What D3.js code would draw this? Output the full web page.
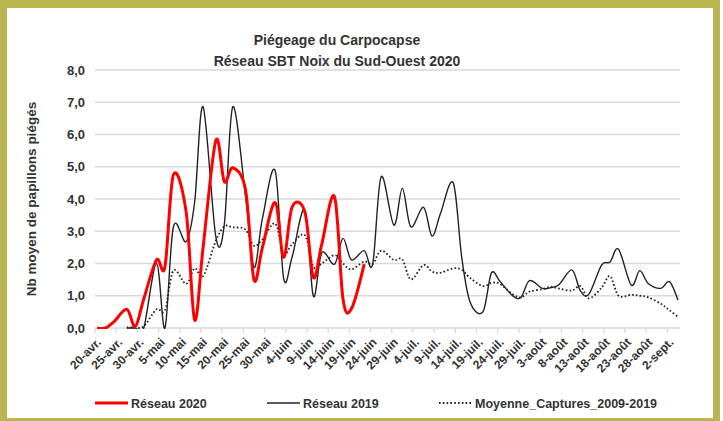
<!DOCTYPE html>
<html>
<head>
<meta charset="utf-8">
<script src="https://cdn.jsdelivr.net/npm/d3@7"></script>
<style>
  html, body { margin: 0; padding: 0; background: #fff; }
  text { font-family: "Liberation Sans", Arial, sans-serif; font-weight: bold; fill: #333; }
</style>
</head>
<body>
<div id="chart"></div>
<script>
// relevés lundi / mercredi / vendredi
const dates = [
  "2020-04-20","2020-04-22","2020-04-24","2020-04-27","2020-04-29","2020-05-01",
  "2020-05-04","2020-05-06","2020-05-08","2020-05-11","2020-05-13","2020-05-15",
  "2020-05-18","2020-05-20","2020-05-22","2020-05-25","2020-05-27","2020-05-29",
  "2020-06-01","2020-06-03","2020-06-05","2020-06-08","2020-06-10","2020-06-12",
  "2020-06-15","2020-06-17","2020-06-19","2020-06-22","2020-06-24","2020-06-26",
  "2020-06-29","2020-07-01","2020-07-03","2020-07-06","2020-07-08","2020-07-10",
  "2020-07-13","2020-07-15","2020-07-17","2020-07-20","2020-07-22","2020-07-24",
  "2020-07-27","2020-07-29","2020-07-31","2020-08-03","2020-08-05","2020-08-07",
  "2020-08-10","2020-08-12","2020-08-14","2020-08-17","2020-08-19","2020-08-21",
  "2020-08-24","2020-08-26","2020-08-28","2020-08-31","2020-09-02","2020-09-04"
];

const reseau2020 = [
  0, 0, 0.2, 0.58, 0.04, 0.9, 2.11, 1.9, 4.75, 3.6, 0.25, 2.5,
  5.81, 4.54, 4.97, 4.29, 1.5, 2.5, 3.89, 2.19, 3.75, 3.6, 1.57, 2.6,
  4.07, 0.9, 0.6, 1.98
];

const reseau2019 = [
  null, null, null, 0, 0, 0, 2.0, 0, 3.14, 2.68, 3.9, 6.86,
  2.83, 3.2, 6.86, 4.1, 1.88, 3.4, 4.88, 1.54, 2.2, 3.66, 0.99, 2.33,
  1.98, 2.78, 2.11, 2.4, 1.98, 4.69, 3.19, 4.33, 3.14, 3.74, 2.85, 3.55,
  4.5, 2.2, 0.8, 0.5, 1.7, 1.45, 1.0, 0.95, 1.47, 1.23, 1.25, 1.35,
  1.8, 1.15, 1.05, 1.95, 2.05, 2.44, 1.33, 1.78, 1.38, 1.23, 1.44, 0.87
];

const moyenne = [
  null, null, null, 0.02, 0.02, 0.05, 0.58, 0.55, 1.78, 1.37, 1.85, 1.61,
  2.7, 3.15, 3.12, 3.05, 2.55, 2.75, 3.24, 2.31, 2.6, 2.88, 1.9, 2.0,
  2.26, 2.0, 1.82, 2.06, 1.98, 2.4, 2.11, 2.13, 1.51, 1.95, 1.75, 1.71,
  1.85, 1.8, 1.55, 1.3, 1.4, 1.37, 1.05, 0.95, 1.13, 1.2, 1.28, 1.22,
  1.16, 1.3, 0.92, 1.25, 1.61, 1.0, 1.03, 1.0, 0.95, 0.75, 0.55, 0.35
];

const tickLabels = [
  "20-avr.","25-avr.","30-avr.","5-mai","10-mai","15-mai","20-mai","25-mai",
  "30-mai","4-juin","9-juin","14-juin","19-juin","24-juin","29-juin","4-juil.",
  "9-juil.","14-juil.","19-juil.","24-juil.","29-juil.","3-août","8-août",
  "13-août","18-août","23-août","28-août","2-sept."
];

const yTicks = [0, 1, 2, 3, 4, 5, 6, 7, 8];

const width = 723, height = 421;
const olive = "#b9b650";

const svg = d3.select("#chart")
  .append("svg")
  .attr("width", width)
  .attr("height", height);

// cadre
svg.append("rect").attr("width", width).attr("height", height).attr("fill", olive);
svg.append("rect").attr("x", 7).attr("y", 8).attr("width", 706).attr("height", 410).attr("fill", "#fff");
svg.append("rect").attr("x", 720).attr("y", 0).attr("width", 3).attr("height", height).attr("fill", "#fff");

svg.append("clipPath")
  .attr("id", "plot")
  .append("rect")
  .attr("x", 90).attr("y", 60).attr("width", 600).attr("height", 269);

const parse = d3.timeParse("%Y-%m-%d");
const start = parse(dates[0]);

const x = d3.scaleTime()
  .domain([start, d3.timeDay.offset(start, 138)])
  .range([95, 680]);

const y = d3.scaleLinear()
  .domain([0, 8])
  .range([328, 70]);

const fr = d3.formatLocale({ decimal: ",", thousands: " ", grouping: [3], currency: ["", " €"] });
const fmt = fr.format(".1f");

// grille
svg.append("g")
  .selectAll("line")
  .data(yTicks)
  .join("line")
  .attr("x1", 95)
  .attr("x2", 680)
  .attr("y1", d => y(d))
  .attr("y2", d => y(d))
  .attr("stroke", "#d9d9d9")
  .attr("stroke-width", 1.3);

// axe Y
svg.append("g")
  .selectAll("text")
  .data(yTicks)
  .join("text")
  .attr("x", 85)
  .attr("y", d => y(d))
  .attr("dy", "0.36em")
  .attr("text-anchor", "end")
  .style("font-size", "13px")
  .text(d => fmt(d));

svg.append("text")
  .attr("transform", "translate(36,199) rotate(-90)")
  .attr("text-anchor", "middle")
  .style("font-size", "13.5px")
  .text("Nb moyen de papillons piégés");

// axe X
const tickDates = tickLabels.map((t, i) => d3.timeDay.offset(start, i * 5));

svg.append("g")
  .selectAll("line")
  .data(tickDates)
  .join("line")
  .attr("x1", d => x(d))
  .attr("x2", d => x(d))
  .attr("y1", 328)
  .attr("y2", 333)
  .attr("stroke", "#d9d9d9")
  .attr("stroke-width", 1.3);

svg.append("g")
  .selectAll("text")
  .data(tickDates)
  .join("text")
  .attr("transform", d => `translate(${x(d) + 4},${340}) rotate(-45)`)
  .attr("text-anchor", "end")
  .attr("dy", "0.35em")
  .style("font-size", "12px")
  .text((d, i) => tickLabels[i]);

// séries
const rows = dates.map((d, i) => ({
  date: d3.timeHour.offset(parse(d), 12),
  r20: reseau2020[i] ?? null,
  r19: reseau2019[i] ?? null,
  moy: moyenne[i] ?? null
}));

const lineFor = key => d3.line()
  .defined(d => d[key] != null)
  .curve(d3.curveCardinal)
  .x(d => x(d.date))
  .y(d => y(d[key]));

const series = svg.append("g").attr("clip-path", "url(#plot)");

series.append("path")
  .datum(rows)
  .attr("fill", "none")
  .attr("stroke", "#222")
  .attr("stroke-width", 1.8)
  .attr("stroke-dasharray", "1.6,2.2")
  .attr("d", lineFor("moy"));

series.append("path")
  .datum(rows)
  .attr("fill", "none")
  .attr("stroke", "#222")
  .attr("stroke-width", 1.4)
  .attr("d", lineFor("r19"));

series.append("path")
  .datum(rows)
  .attr("fill", "none")
  .attr("stroke", "#ff0000")
  .attr("stroke-width", 3)
  .attr("d", lineFor("r20"));

// titre
svg.append("text")
  .attr("x", 337)
  .attr("y", 45)
  .attr("text-anchor", "middle")
  .style("font-size", "14px")
  .text("Piégeage du Carpocapse");

svg.append("text")
  .attr("x", 337)
  .attr("y", 66)
  .attr("text-anchor", "middle")
  .style("font-size", "14px")
  .text("Réseau SBT Noix du Sud-Ouest 2020");

// légende
const legend = [
  { label: "Réseau 2020", color: "#ff0000", w: 3, dash: null, x: 95 },
  { label: "Réseau 2019", color: "#222", w: 1.4, dash: null, x: 267 },
  { label: "Moyenne_Captures_2009-2019", color: "#222", w: 1.8, dash: "1.6,2.2", x: 439 }
];

const lg = svg.append("g")
  .selectAll("g")
  .data(legend)
  .join("g")
  .attr("transform", d => `translate(${d.x},403)`);

lg.append("line")
  .attr("x1", 0)
  .attr("x2", 33)
  .attr("stroke", d => d.color)
  .attr("stroke-width", d => d.w)
  .attr("stroke-dasharray", d => d.dash);

lg.append("text")
  .attr("x", 36)
  .attr("dy", "0.36em")
  .style("font-size", "12.5px")
  .text(d => d.label);
</script>
</body>
</html>
